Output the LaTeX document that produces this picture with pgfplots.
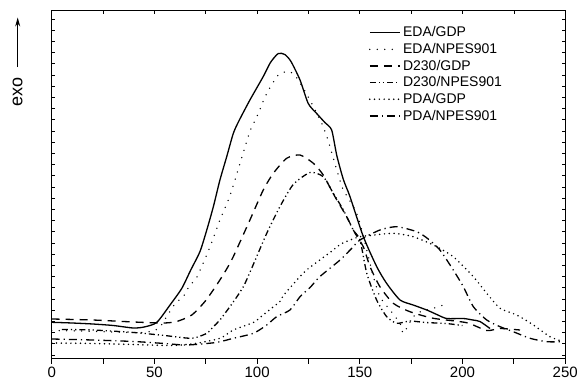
\documentclass[border=0pt]{standalone}
\usepackage{fontspec}
\setmainfont{Liberation Sans}
\usepackage{pgfplots}
\pgfplotsset{compat=1.18}
\usetikzlibrary{arrows.meta}

\begin{document}
\begin{tikzpicture}
\useasboundingbox (-51.7pt,-25.5pt) rectangle (530.3pt,358.5pt);
\begin{axis}[at={(0,0)}, anchor=south west, scale only axis,
  width=513.5pt, height=347.8pt,
  xmin=0, xmax=250, ymin=0, ymax=347.8,
  axis line style={line width=1pt},
  xtick={0,50,...,250}, minor xtick={25,75,...,225},
  xtick pos=left, tick align=outside,
  major tick length=5pt, minor tick length=5pt,
  ytick=\empty,
  tick style={line width=0.8pt, black},
  ticklabel style={font=\fontsize{15}{18}\selectfont},
  /pgf/number format/assume math mode=true,
  legend cell align=left,
  legend image code/.code={\path[draw=none, fill=none, use as bounding box] (0pt,-3pt) rectangle (32pt,3pt);
    \draw[#1] (0pt,0pt) -- (30pt,0pt);},
  legend style={draw=none, fill=none, anchor=north west,
    at={(0.619,0.958)}, font=\fontsize{14}{16}\selectfont,
    row sep=2.4pt, inner sep=0pt, nodes={inner sep=1.3pt}},
  every axis plot/.append style={line width=1.3pt, black},
]
% EDA/GDP
\addplot[solid, smooth, tension=0.4] coordinates {
(0,36.2) (10,35.5) (20,34.5) (30,33) (39.7,30.5) (45,31.5) (51.1,36)
(57.6,53.5) (63.3,70) (67.7,88.5) (72.2,107) (75.5,128.5) (78.7,151.8)
(81.9,178.5) (85.2,201.8) (88.4,225) (91,237) (96.5,258.5) (103,282)
(106.5,296) (110.3,305) (113.5,304) (116.5,297) (120.9,278.5) (124.9,255)
(129,245) (133,236) (136.3,228.5) (138.8,203) (142,179) (145.2,162)
(151.7,122) (158.2,92) (163.1,75) (169.6,58.5) (176,53.5) (182.6,48.5)
(187.5,44) (192.3,40) (200.4,40) (205,38.5) (208.5,37) (213.4,30)};
\addlegendentry{EDA/GDP}
% EDA/NPES901
\addplot[line width=1.5pt, line cap=round, dash pattern=on 0pt off 7.5pt, smooth, tension=0.4] coordinates {
(0,28) (15,27.5) (30,26.5) (45,26) (52,30) (56,42) (60.1,55) (64.1,62)
(67.3,73.5) (70.6,81) (77.1,111.8) (81.9,138.5) (86.8,163) (91.7,195.2)
(96.5,227) (100.6,245.2) (104.7,265.2) (110.3,283.5) (115.2,287)
(118.5,283) (122.5,270.2) (127.4,251.8) (132.2,231.8) (135.5,211.8)
(138.8,188.5) (142,168.5) (148.5,145.2) (153.4,108.5) (156.6,81.8)
(159.8,61.8) (164.7,48.5) (169.6,35.2) (171.2,25.2) (174,35) (177.7,45.2)
(185.8,50.2) (193.1,55.2)};
\addlegendentry{EDA/NPES901}
% D230/GDP
\addplot[dash pattern=on 8pt off 6pt, smooth, tension=0.4] coordinates {
(0,39.5) (20,38.5) (40,36.5) (54.3,35.5) (60.9,37) (68.2,43.5) (74.6,57)
(80.3,73.5) (84.9,88.5) (88.4,101.8) (96.5,138.5) (103,168.5)
(107.9,185.2) (114.4,200.2) (120.9,203.5) (127.4,195.2) (132.2,183.5)
(137.9,161.8) (143.6,141.8) (147.7,125.2) (151.7,111.8) (155,91.8)
(159.8,71.8) (166.3,55.2) (174.4,46.8) (185.8,40.2) (202,35.8)
(211.8,28) (218.3,30) (228,28.5)};
\addlegendentry{D230/GDP}
% D230/NPES901
\addplot[dash pattern=on 6pt off 3pt on 1.2pt off 3pt on 1.2pt off 3pt, smooth, tension=0.4] coordinates {
(5,29) (20,28.5) (40,26) (55,23) (68.2,20.2) (75.5,25.2) (78.7,31.8)
(81.9,38.5) (88.4,56.5) (93.3,71.8) (97,88.5) (104.7,125.2) (111.1,151.8)
(117.6,174) (125.8,186) (132.2,181.8) (137.1,165.2) (142,148.5)
(146.8,128.5) (150.1,118.5) (153.4,85.2) (158.2,58.5) (163.1,41.8)
(168,35.2) (174.4,37.5) (182,36) (192,35) (200,33)};
\addlegendentry{D230/NPES901}
% PDA/GDP
\addplot[line width=1.7pt, line cap=round, dash pattern=on 0pt off 4.8pt, smooth, tension=0.4] coordinates {
(0,15.5) (20,15) (40,14) (57.6,13) (70,15) (81.9,20.2) (88.4,28.5)
(98.2,36) (101.4,41) (106.3,49) (111.1,57) (112.8,63) (120.9,82)
(124.1,88.5) (130.5,98.5) (137.1,108.5) (140.4,114) (145.2,118.5)
(150.1,121.8) (155,123) (166.3,125.2) (176,121.8) (185.8,113.5)
(195.5,101.8) (205.3,81.8) (211.8,65.2) (218.3,50.2) (226.4,43.5)
(234.5,33.5) (242.6,21.8) (249.1,16.8)};
\addlegendentry{PDA/GDP}
% PDA/NPES901
\addplot[dash pattern=on 8pt off 4pt on 1.2pt off 4pt, smooth, tension=0.4] coordinates {
(0,19.5) (20,18.5) (40,17) (55,15) (65.7,13.5) (80,16) (88.4,20.2)
(98.2,25.2) (104.7,33.5) (109.5,41.8) (116,48.5) (120.9,61.8)
(125.8,71) (130.5,81.8) (140.4,98.5) (146,110) (150.1,118.5)
(159.8,128.5) (168,131.8) (177.7,126.8) (183,120) (189,108.5)
(195.5,88.5) (200.4,71.8) (205.3,51.8) (211.8,38.5) (218.3,31.8)
(224.7,26.8) (232.9,20.2) (241,16.8) (249.1,16.8)};
\addlegendentry{PDA/NPES901}
\end{axis}
\begin{axis}[at={(0,0)}, anchor=south west, scale only axis,
  width=513.5pt, height=347.8pt,
  xmin=0, xmax=250, ymin=0, ymax=347.8,
  axis line style={line width=1pt},
  xtick={0,25,...,250}, xtick pos=right,
  ytick={3.7,14.9,...,347}, ytick pos=both,
  tick align=inside, major tick length=3pt,
  tick style={line width=0.6pt, black},
  xticklabels={}, yticklabels={},
]
\end{axis}
\draw[line width=1pt, -{Stealth[length=9pt,width=5pt]}] (-34pt,291.5pt) -- (-34pt,341pt);
\node[rotate=90, font=\fontsize{18}{20}\selectfont, inner sep=0pt] at (-34pt,266.5pt) {exo};
\end{tikzpicture}
\end{document}
